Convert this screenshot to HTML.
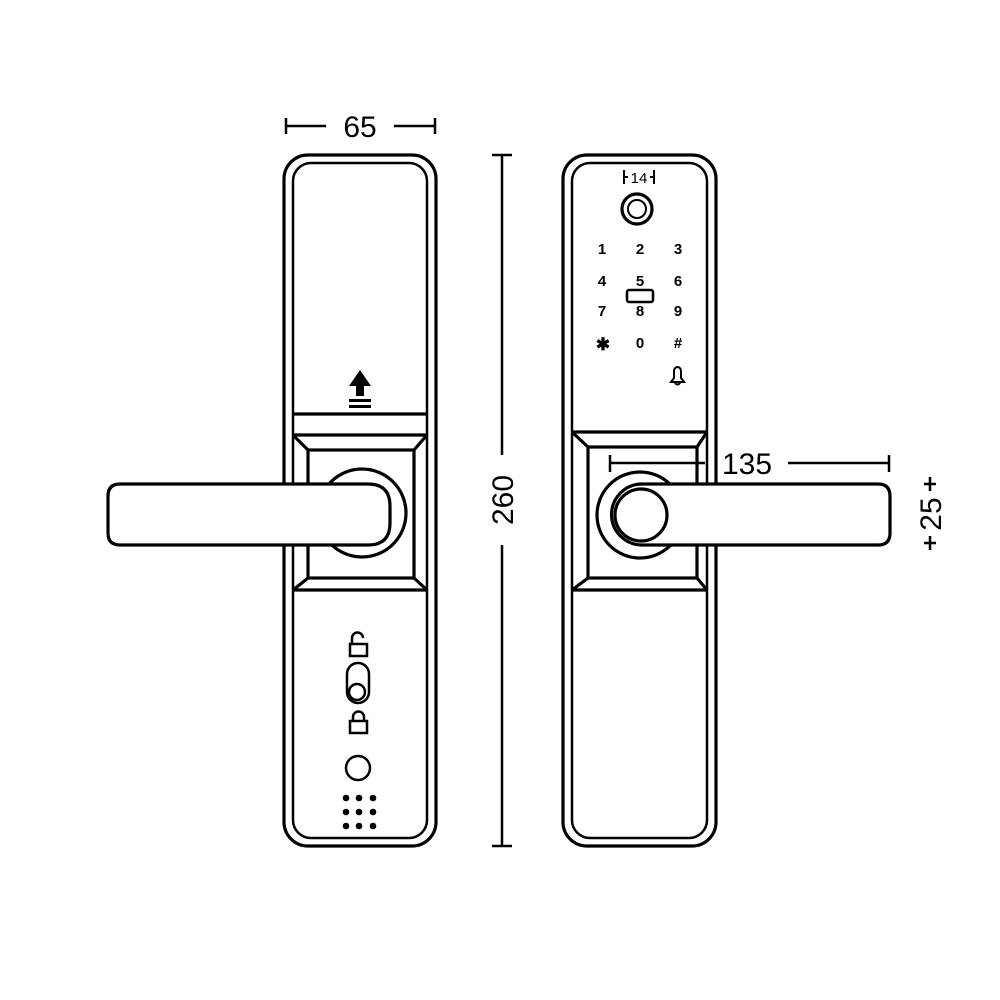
<!DOCTYPE html>
<html><head><style>html,body{margin:0;padding:0;background:#fff}svg{display:block}</style></head>
<body>
<svg width="1000" height="1000" viewBox="0 0 1000 1000" xmlns="http://www.w3.org/2000/svg" font-family="Liberation Sans, sans-serif">
<rect width="1000" height="1000" fill="#fff"/>
<g fill="none" stroke="#000" stroke-width="3.2">
<!-- LEFT LOCK -->
<rect x="284" y="155" width="152" height="691" rx="24"/>
<rect x="293" y="163" width="134" height="675" rx="18" stroke-width="2.5"/>
<line x1="293" y1="414" x2="427" y2="414"/>
<line x1="293" y1="435" x2="427" y2="435"/>
<rect x="308" y="450" width="106" height="128"/>
<line x1="293" y1="435" x2="308" y2="450"/><line x1="427" y1="435" x2="414" y2="450"/>
<line x1="293" y1="590" x2="308" y2="578"/><line x1="427" y1="590" x2="414" y2="578"/>
<line x1="293" y1="590" x2="427" y2="590"/>
<circle cx="362" cy="513" r="44" fill="#fff"/>
<path d="M108 496 Q108 484 120 484 H368 Q390 484 390 506 V523 Q390 545 368 545 H120 Q108 545 108 533 Z" fill="#fff"/>
<!-- icons -->
<rect x="350" y="644" width="17" height="12" stroke-width="2.5"/>
<path d="M352 644 V638 A5.5 5.5 0 0 1 363 638" stroke-width="2.5"/>
<rect x="347" y="663" width="22" height="40" rx="11" stroke-width="2.5"/>
<circle cx="357" cy="692" r="8" stroke-width="2.5"/>
<rect x="350" y="721" width="17" height="12" stroke-width="2.5"/>
<path d="M353 721 V717 A5.5 5.5 0 0 1 364 717 V721" stroke-width="2.5"/>
<circle cx="358" cy="768" r="12" stroke-width="2.5"/>
<!-- RIGHT LOCK -->
<rect x="563" y="155" width="153" height="691" rx="24"/>
<rect x="572" y="163" width="135" height="675" rx="18" stroke-width="2.5"/>
<line x1="572" y1="432" x2="707" y2="432"/>
<rect x="588" y="447" width="109" height="131"/>
<line x1="572" y1="432" x2="588" y2="447"/><line x1="707" y1="432" x2="697" y2="447"/>
<line x1="572" y1="590" x2="588" y2="578"/><line x1="707" y1="590" x2="697" y2="578"/>
<line x1="572" y1="590" x2="707" y2="590"/>
<circle cx="640" cy="515" r="43" fill="#fff"/>
<path d="M642 484 H878 Q890 484 890 496 V533 Q890 545 878 545 H642 A30.5 30.5 0 0 1 642 484 Z" fill="#fff"/>
<circle cx="641" cy="515" r="26"/>
<circle cx="637" cy="209" r="15"/>
<circle cx="637" cy="209" r="9" stroke-width="2"/>
<rect x="627" y="290" width="26" height="12" rx="2" stroke-width="2.5"/>
<path d="M671 382 H684 L681 378 V371 A3.5 4 0 0 0 674 371 V378 Z M675 382 A2.5 2.5 0 0 0 680 382" stroke-width="2"/>
<!-- dimensions -->
<path d="M286 118 V134 M286 126 H326 M394 126 H435 M435 118 V134" stroke-width="2.5"/>
<path d="M492 155 H512 M502 155 V455 M502 545 V846 M492 846 H512" stroke-width="2.5"/>
<path d="M610 455 V472 M610 463 H705 M788 463 H889 M889 455 V472" stroke-width="2.5"/>
<path d="M924 484 H936 M930 477 V491 M924 543 H936 M930 536 V550" stroke-width="2.5"/>
<path d="M624 170 V184 M624 177 H628 M650 177 H654 M654 170 V184" stroke-width="2"/>
</g>
<g fill="#000">
<path d="M360 370 L349 386 H356 V396 H364 V386 H371 Z"/>
<rect x="349" y="399" width="22" height="3"/><rect x="349" y="405" width="22" height="3"/>
<g>
<circle cx="346" cy="798" r="3.3"/><circle cx="359" cy="798" r="3.3"/><circle cx="373" cy="798" r="3.3"/>
<circle cx="346" cy="812" r="3.3"/><circle cx="359" cy="812" r="3.3"/><circle cx="373" cy="812" r="3.3"/>
<circle cx="346" cy="826" r="3.3"/><circle cx="359" cy="826" r="3.3"/><circle cx="373" cy="826" r="3.3"/>
</g>
<g font-size="15" font-weight="bold" text-anchor="middle">
<text x="602" y="254">1</text><text x="640" y="254">2</text><text x="678" y="254">3</text>
<text x="602" y="286">4</text><text x="640" y="286">5</text><text x="678" y="286">6</text>
<text x="602" y="316">7</text><text x="640" y="316">8</text><text x="678" y="316">9</text>
<text x="603" y="350" font-size="17">✱</text><text x="640" y="348">0</text><text x="678" y="348">#</text>
</g>
<text x="360" y="137" font-size="30" text-anchor="middle">65</text>
<text x="639" y="183" font-size="15" text-anchor="middle">14</text>
<text x="747" y="474" font-size="30" text-anchor="middle">135</text>
<text transform="translate(513,500) rotate(-90)" font-size="30" text-anchor="middle">260</text>
<text transform="translate(941,514) rotate(-90)" font-size="30" text-anchor="middle">25</text>
</g>
</svg>
</body></html>
